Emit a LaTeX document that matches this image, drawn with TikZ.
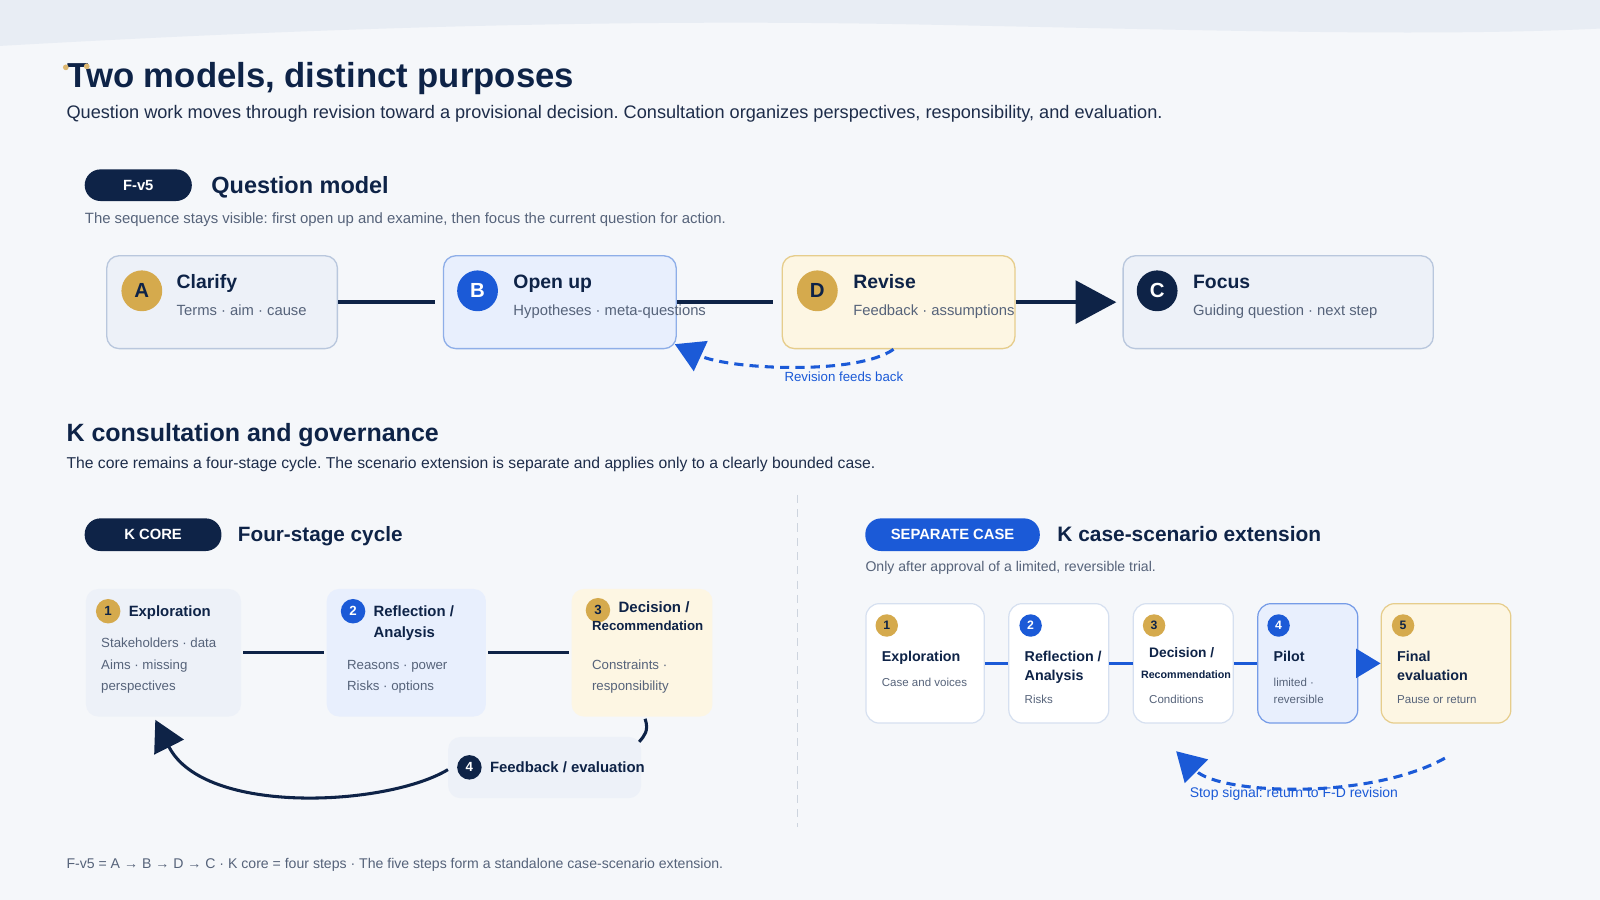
\documentclass[tikz,border=0pt]{standalone}
\usepackage{fontspec}
\setmainfont{Liberation Sans}
\usetikzlibrary{arrows.meta,positioning}
\frenchspacing
\definecolor{bg}{HTML}{F5F7FA}
\definecolor{band}{HTML}{E8EDF4}
\definecolor{navy}{HTML}{0E2347}
\definecolor{ink}{HTML}{1E2D4A}
\definecolor{slate}{HTML}{56637A}
\definecolor{qblue}{HTML}{1B5AD7}
\definecolor{gold}{HTML}{D5AA4D}
\definecolor{dotgold}{HTML}{DDB872}
\definecolor{greyline}{HTML}{B9C7DD}
\definecolor{greyfill}{HTML}{EDF1F8}
\definecolor{bluefill}{HTML}{E8EFFD}
\definecolor{blueline}{HTML}{8EAEE8}
\definecolor{creamfill}{HTML}{FDF6E3}
\definecolor{creamline}{HTML}{E6CD8C}
\definecolor{cardline}{HTML}{D6E0F0}
\definecolor{divider}{HTML}{CDD4DE}
\newcommand{\fsz}[1]{\fontsize{#1}{#1}\selectfont}
\tikzset{
  txt/.style={anchor=base west,inner sep=0,text=ink},
  hd/.style={txt,text=navy,font=\fsz{#1}\bfseries},
  note/.style={txt,text=slate,font=\fsz{#1}},
  pill/.style={rounded corners=15.5,inner sep=0,text=white,font=\fsz{14.5}\bfseries},
  qbox/.style={anchor=north west,rounded corners=12,line width=1.3,minimum height=91,inner sep=0},
  kcard/.style={anchor=north west,rounded corners=12,minimum width=#1,minimum height=125,inner sep=0},
  scard/.style={anchor=north west,rounded corners=13,line width=1.2,minimum width=#1,minimum height=117,inner sep=0},
  badge/.style={circle,inner sep=0,minimum size=#1},
  link/.style={line width=4,draw=navy},
  revback/.style={line width=3,draw=qblue,dash pattern=on 9 off 6,-{Triangle[length=28,width=32]}}
}
\begin{document}
\begin{tikzpicture}[x=1pt,y=-1pt]
\useasboundingbox (0,0) rectangle (1568,882);
\fill[bg] (0,0) rectangle (1568,882);
\fill[band] (0,0) -- (0,45) .. controls (300,28) and (600,18) .. (900,24) .. controls (1200,30) and (1400,36) .. (1568,28) -- (1568,0) -- cycle; %top band
%heading
\node[hd=34] (title) at (66,86) {Two models, distinct purposes};
\fill[dotgold] (64.5,66) circle (2.8) (85,65) circle (2.8);
\node[txt,font=\fsz{17.8}] (lead) at (65,116) {Question work moves through revision toward a provisional decision. Consultation organizes perspectives, responsibility, and evaluation.};
%question model
\node[pill,fill=navy,minimum width=105,minimum height=31] (fv) at (135.5,181.5) {F-v5};
\node[hd=23] (qhead) at (207,189.5) {Question model};
\node[note=14.6] (qnote) at (83,219) {The sequence stays visible: first open up and examine, then focus the current question for action.};
\node[qbox,draw=greyline,fill=greyfill,minimum width=226] (A) at (104,250) {};
\node[qbox,draw=blueline,fill=bluefill,minimum width=228] (B) at (434,250) {};
\node[qbox,draw=creamline,fill=creamfill,minimum width=228] (D) at (766,250) {};
\node[qbox,draw=greyline,fill=greyfill,minimum width=304] (C) at (1100,250) {};
\node[badge=40,fill=gold,text=navy,font=\fsz{20}\bfseries] (Aa) at (139,285) {A};
\node[badge=40,fill=qblue,text=white,font=\fsz{20}\bfseries] (Bb) at (468,285) {B};
\node[badge=40,fill=gold,text=navy,font=\fsz{20}\bfseries] (Dd) at (801,285) {D};
\node[badge=40,fill=navy,text=white,font=\fsz{20}\bfseries] (Cc) at (1134,285) {C};
\node[hd=19] (Ahd) at (173,283) {Clarify};
\node[note=14.5] (Asub) at (173,309) {Terms · aim · cause};
\node[hd=19] (Bhd) at (503,283) {Open up};
\node[note=14.5] (Bsub) at (503,309) {Hypotheses · meta-questions};
\node[hd=19] (Dhd) at (836,283) {Revise};
\node[note=14.5] (Dsub) at (836,309) {Feedback · assumptions};
\node[hd=19] (Chd) at (1169,283) {Focus};
\node[note=14.5] (Csub) at (1169,309) {Guiding question · next step};
\draw[link,shorten >=8] (A.east) -- (B.west);
\draw[link,shorten >=8] (B.east) -- (D.west);
\draw[link,-{Triangle[length=40,width=42]},shorten >=6] (D.east) -- (C.west);
\draw[revback] ([xshift=-5]D.south) .. controls (840,368) and (715,362) .. ([xshift=-2,yshift=5]B.south east); %feeds back
\node[text=qblue,font=\fsz{13},inner sep=0] (revlbl) at (827,369) {Revision feeds back};
%consultation
\node[hd=24.5] (khead) at (65,433) {K consultation and governance};
\node[txt,font=\fsz{15.4}] (knote) at (65,459) {The core remains a four-stage cycle. The scenario extension is separate and applies only to a clearly bounded case.};
\draw[divider,line width=1,dash pattern=on 8 off 6] (782,485) -- (782,810);
%core cycle
\node[pill,fill=navy,minimum width=134,minimum height=32] (kcore) at (150,524) {K CORE};
\node[hd=20.3] (khd) at (233,531) {Four-stage cycle};
\node[kcard=152,fill=greyfill] (k1) at (84,577) {};
\node[kcard=156,fill=bluefill] (k2) at (320,577) {};
\node[kcard=138,fill=creamfill] (k3) at (560,577) {};
\node[anchor=north west,rounded corners=12,minimum width=189,minimum height=60,fill=greyfill] (k4) at (439,722) {};
\node[badge=24,fill=gold,text=navy,font=\fsz{13}\bfseries] (n1) at (106,599) {1};
\node[badge=24,fill=qblue,text=white,font=\fsz{13}\bfseries] (n2) at (346,599) {2};
\node[badge=24,fill=gold,text=navy,font=\fsz{13}\bfseries] (n3) at (586,598) {3};
\node[badge=24,fill=navy,text=white,font=\fsz{13}\bfseries] (n4) at (460,752) {4};
\node[hd=14.6] (k1hd) at (126,604) {Exploration};
\node[note=13] (k1a) at (99,635) {Stakeholders · data};
\node[note=13] (k1b) at (99,656) {Aims · missing};
\node[note=13] (k1c) at (99,677) {perspectives};
\node[hd=14.6] (k2hd) at (366,604) {Reflection /};
\node[hd=14.6] (k2hdb) at (366,625) {Analysis};
\node[note=13] (k2a) at (340,656) {Reasons · power};
\node[note=13] (k2b) at (340,677) {Risks · options};
\node[hd=14.7] (k3hd) at (606,600) {Decision /};
\node[hd=13] (k3hdb) at (580,618) {Recommendation};
\node[note=13] (k3a) at (580,656) {Constraints ·};
\node[note=13] (k3b) at (580,677) {responsibility};
\node[hd=14.6] (k4hd) at (480,757) {Feedback / evaluation};
\draw[line width=3,navy,shorten <=2,shorten >=2] (k1.east) -- (k2.west);
\draw[line width=3,navy,shorten <=2,shorten >=2] (k2.east) -- (k3.west);
\draw[line width=3,navy] ([xshift=3,yshift=-2]k3.south) .. controls +(4,12) and +(5,-6) .. ([xshift=-2,yshift=-5]k4.north east);
\draw[line width=3,navy,-{Triangle[length=30,width=32]}] ([yshift=-2]k4.west) .. controls (380,790) and (200,800) .. ([xshift=-8,yshift=-3]k1.south); %back to start
%case extension
\node[pill,fill=qblue,minimum width=171,minimum height=32] (sep) at (933.5,524) {SEPARATE CASE};
\node[hd=20.5] (shd) at (1036,531) {K case-scenario extension};
\node[note=13.8] (snote) at (848,560) {Only after approval of a limited, reversible trial.};
\node[scard=116,draw=cardline,fill=white] (s1) at (848,591) {};
\node[scard=98,draw=cardline,fill=white] (s2) at (988,591) {};
\node[scard=98,draw=cardline,fill=white] (s3) at (1110,591) {};
\node[scard=98,draw=qblue!60,fill=bluefill] (s4) at (1232,591) {};
\node[scard=127,draw=creamline,fill=creamfill] (s5) at (1353,591) {};
\node[badge=22,fill=gold,text=navy,font=\fsz{12}\bfseries] (m1) at (869,613) {1};
\node[badge=22,fill=qblue,text=white,font=\fsz{12}\bfseries] (m2) at (1010,613) {2};
\node[badge=22,fill=gold,text=navy,font=\fsz{12}\bfseries] (m3) at (1131,613) {3};
\node[badge=22,fill=qblue,text=white,font=\fsz{12}\bfseries] (m4) at (1253,613) {4};
\node[badge=22,fill=gold,text=navy,font=\fsz{12}\bfseries] (m5) at (1375,613) {5};
\node[hd=14] (s1hd) at (864,648) {Exploration};
\node[note=11.3] (s1a) at (864,673) {Case and voices};
\node[hd=14] (s2hd) at (1004,648) {Reflection /};
\node[hd=14] (s2hdb) at (1004,667) {Analysis};
\node[note=11.3] (s2a) at (1004,689) {Risks};
\node[hd=13.5] (s3hd) at (1126,644) {Decision /};
\node[hd=10.5] (s3hdb) at (1118,665) {Recommendation};
\node[note=11.3] (s3a) at (1126,689) {Conditions};
\node[hd=14] (s4hd) at (1248,648) {Pilot};
\node[note=11.3] (s4a) at (1248,673) {limited ·};
\node[note=11.3] (s4b) at (1248,689) {reversible};
\node[hd=14] (s5hd) at (1369,648) {Final};
\node[hd=14] (s5hdb) at (1369,667) {evaluation};
\node[note=11.3] (s5a) at (1369,689) {Pause or return};
\draw[line width=3.5,qblue] (s1.east) -- (s2.west);
\draw[line width=3.5,qblue] (s2.east) -- (s3.west);
\draw[line width=3.5,qblue] (s3.east) -- (s4.west);
\draw[line width=3.5,qblue,-{Triangle[length=24,width=28]}] (s4.east) -- (s5.west);
\coordinate (stopfrom) at (1416,743);
\draw[revback] (stopfrom) .. controls (1340,785) and (1195,778) .. ([xshift=-7,yshift=-27]s3.south); %stop signal
\node[text=qblue,font=\fsz{13.7},inner sep=0] (stoplbl) at (1268,778) {Stop signal: return to F-D revision};
%footer
\node[note=13.8] (foot) at (65,851) {F-v5 = A → B → D → C · K core = four steps · The five steps form a standalone case-scenario extension.};
\end{tikzpicture}
\end{document}
